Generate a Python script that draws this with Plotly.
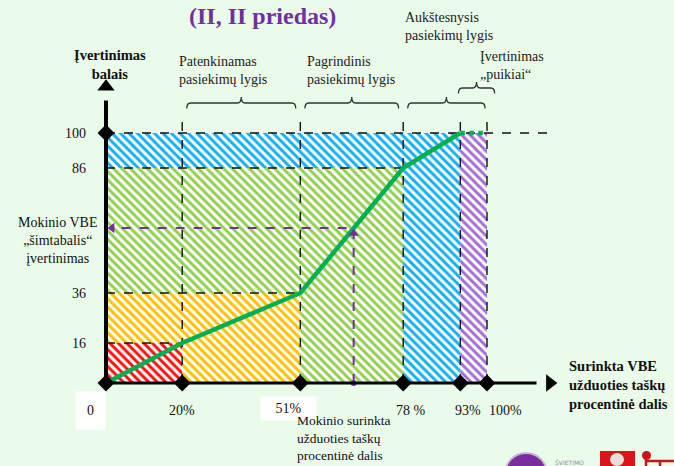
import plotly.graph_objects as go

# Grading scale: share of exam points collected (%) and the resulting 100-point score
pct = [0, 20, 51, 78, 93, 100]
score = [0, 16, 36, 86, 100, 100]
pct_labels = ["0", "20%", "51%", "78 %", "93%", "100%"]
score_ticks = [100, 86, 36, 16]
band_colors = ["#FF1010", "#FFC000", "#92D050", "#12B0F0", "#A46FD2"]

# One student's result
student_pct = 65
student_score = 62

# Achievement level captions with the pct span each brace covers
levels = [
    ("Patenkinamas<br>pasiekimų lygis", 20, 51),
    ("Pagrindinis<br>pasiekimų lygis", 51, 78),
    ("Aukštesnysis<br>pasiekimų lygis", 78, 100),
    ("Įvertinimas<br>„puikiai“", 93, 100),
]

BG = "#EAFBEA"
W, H = 674, 466
X0, SX = 106, 3.81
Y0, SY = 383, 2.5
FONT = "Liberation Serif, Times New Roman, serif"

fig = go.Figure()

# Stepped, hatched score bands
for k in range(1, len(pct)):
    y_lo = score[k - 1]
    y_hi = score[k]
    if k == len(pct) - 1:
        xs = [pct[k - 1], pct[k], pct[k], pct[k - 1], pct[k - 1]]
        ys = [0, 0, y_hi, y_hi, 0]
    else:
        xs = [0, pct[k - 1], pct[k - 1], pct[k], pct[k], 0, 0]
        ys = [y_lo, y_lo, 0, 0, y_hi, y_hi, y_lo]
    fig.add_trace(go.Scatter(
        x=xs, y=ys, mode="lines", fill="toself", line=dict(width=0),
        fillcolor=band_colors[k - 1],
        fillpattern=dict(shape="\\", bgcolor=band_colors[k - 1], fgcolor="white",
                         fgopacity=1, size=6, solidity=0.5),
        hoverinfo="skip", showlegend=False))

dash_style = dict(color="#111111", width=1.4, dash="dash")
top_y = 106
# vertical guide lines at each threshold
for p in pct[1:]:
    fig.add_trace(go.Scatter(x=[p, p], y=[0, top_y], mode="lines", line=dash_style,
                             hoverinfo="skip", showlegend=False))
# horizontal guide lines at each score level
for p, s in zip(pct[1:4], score[1:4]):
    fig.add_trace(go.Scatter(x=[0, p], y=[s, s], mode="lines", line=dash_style,
                             hoverinfo="skip", showlegend=False))
fig.add_trace(go.Scatter(x=[0, 117], y=[score[-1], score[-1]], mode="lines", line=dash_style,
                         hoverinfo="skip", showlegend=False))

# Conversion curve
fig.add_trace(go.Scatter(x=pct[:5], y=score[:5], mode="lines",
                         line=dict(color="#00B050", width=4.5),
                         hoverinfo="skip", showlegend=False))
fig.add_trace(go.Scatter(x=pct[4:], y=score[4:], mode="lines",
                         line=dict(color="#00B050", width=4.5, dash="dot"),
                         hoverinfo="skip", showlegend=False))

# Student read-off (dashed purple)
purple = "#7030A0"
fig.add_trace(go.Scatter(x=[student_pct, student_pct, 1.5], y=[0, student_score, student_score],
                         mode="lines", line=dict(color=purple, width=2, dash="dash"),
                         hoverinfo="skip", showlegend=False))
fig.add_trace(go.Scatter(x=[student_pct], y=[student_score - 2.2], mode="markers",
                         marker=dict(symbol="triangle-up", size=9, color=purple),
                         hoverinfo="skip", showlegend=False))
fig.add_trace(go.Scatter(x=[1.6], y=[student_score], mode="markers",
                         marker=dict(symbol="triangle-left", size=9, color=purple),
                         hoverinfo="skip", showlegend=False))
fig.add_trace(go.Scatter(x=[student_pct], y=[0], mode="markers",
                         marker=dict(symbol="circle", size=6, color=purple),
                         hoverinfo="skip", showlegend=False))

# Axes drawn as thick arrows
fig.add_trace(go.Scatter(x=[0, 0], y=[0, 113], mode="lines", line=dict(color="black", width=4),
                         hoverinfo="skip", showlegend=False))
fig.add_trace(go.Scatter(x=[0, 113], y=[0, 0], mode="lines", line=dict(color="black", width=3),
                         hoverinfo="skip", showlegend=False))
fig.add_trace(go.Scatter(x=[0], y=[118.5], mode="markers",
                         marker=dict(symbol="triangle-up", size=15, color="black"),
                         hoverinfo="skip", showlegend=False))
fig.add_trace(go.Scatter(x=[116.5], y=[0], mode="markers",
                         marker=dict(symbol="triangle-right", size=15, color="black"),
                         hoverinfo="skip", showlegend=False))
fig.add_trace(go.Scatter(x=pct + [0], y=[0] * len(pct) + [score[-1]], mode="markers",
                         marker=dict(symbol="diamond", size=13, color="black"),
                         hoverinfo="skip", showlegend=False))

ann = []

def px(x, y):
    return dict(x=x / W, y=1 - y / H, xref="paper", yref="paper")

# x tick labels (small horizontal nudges keep them clear of each other)
label_shift = {"0": 0, "20%": 0, "51%": -12, "78 %": 8, "93%": 8, "100%": 18}
for p, lab in zip(pct, pct_labels):
    a = dict(x=p, y=0, xref="x", yref="y", text=lab, showarrow=False, yshift=-27,
             xshift=label_shift[lab], font=dict(family=FONT, size=14, color="#111111"))
    if lab == "0":
        a.update(xanchor="right", bgcolor="white", borderpad=11)
    elif lab == "51%":
        a.update(text="&nbsp;&nbsp;&nbsp;" + lab + "&nbsp;&nbsp;&nbsp;", bgcolor="white",
                 borderpad=4, yshift=-25)
    ann.append(a)
# y tick labels
for s in score_ticks:
    ann.append(dict(x=0, y=s, xref="x", yref="y", text=str(s), showarrow=False, xanchor="right",
                    xshift=-18, font=dict(family=FONT, size=14, color="#111111")))

# Level captions and braces
brace_rows = [112, 112, 112, 118]
cap_px = [(177, 70), (305, 70), (403, 27), (478, 65)]
for (txt, a0, a1), yb, (cx, cy) in zip(levels, brace_rows, cap_px):
    x1 = a0 + 1.2
    x2 = a1 - 1.2 if a1 != 100 else a1 - 0.5
    if txt.startswith("Įvert"):
        x1, x2 = a0 - 0.5, a1 + 2
    xm = (x1 + x2) / 2
    d = 1.0
    y0, y1, y2 = yb - 2.2, yb, yb + 2.4
    path = (f"M {x1},{y0} Q {x1},{y1} {x1 + d},{y1} L {xm - d},{y1} "
            f"Q {xm},{y1} {xm},{y2} Q {xm},{y1} {xm + d},{y1} L {x2 - d},{y1} "
            f"Q {x2},{y1} {x2},{y0}")
    fig.add_shape(type="path", path=path, xref="x", yref="y",
                  line=dict(color="#333333", width=1.3))
    ann.append(dict(**px(cx, cy), text=txt, showarrow=False, xanchor="left", yanchor="middle",
                    align="left", font=dict(family=FONT, size=14, color="#222222")))

ann.append(dict(**px(110, 64), text="<b>Įvertinimas<br>balais</b>", showarrow=False,
                xanchor="center", yanchor="middle", align="center",
                font=dict(family=FONT, size=14.5, color="#111111")))
ann.append(dict(**px(57, 240), text="Mokinio VBE<br>„šimtabalis“<br>įvertinimas", showarrow=False,
                xanchor="center", yanchor="middle", align="center",
                font=dict(family=FONT, size=14, color="#111111")))
ann.append(dict(**px(295, 438), text="Mokinio surinkta<br>užduoties taškų<br>procentinė dalis",
                showarrow=False, xanchor="left", yanchor="middle", align="left",
                font=dict(family=FONT, size=13.5, color="#111111")))
ann.append(dict(**px(567, 385), text="<b>Surinkta VBE<br>užduoties taškų<br>procentinė dalis</b>",
                showarrow=False, xanchor="left", yanchor="middle", align="left",
                font=dict(family=FONT, size=14.5, color="#111111")))
ann.append(dict(**px(262, 16), text="<b>(II, II priedas)</b>", showarrow=False,
                xanchor="center", yanchor="middle",
                font=dict(family=FONT, size=24, color="#7030A0")))
ann.append(dict(**px(553, 462), text="ŠVIETIMO", showarrow=False, xanchor="left",
                yanchor="middle", font=dict(family="DejaVu Sans", size=6, color="#9a8aa8")))

# Small logos along the bottom edge
fig.add_shape(type="circle", xref="paper", yref="paper",
              x0=505 / W, x1=547 / W, y0=1 - 495 / H, y1=1 - 453 / H,
              fillcolor="#7A2E9E", line=dict(color="#C9B6D6", width=2))
fig.add_shape(type="rect", xref="paper", yref="paper",
              x0=600 / W, x1=635 / W, y0=0, y1=1 - 451 / H,
              fillcolor="#D8141C", line=dict(width=0))
fig.add_shape(type="circle", xref="paper", yref="paper",
              x0=610 / W, x1=624 / W, y0=0, y1=1 - 453 / H,
              fillcolor="#E8E0D8", line=dict(width=0))
fig.add_shape(type="circle", xref="paper", yref="paper",
              x0=642 / W, x1=651 / W, y0=1 - 460 / H, y1=1 - 451 / H,
              fillcolor="#C8141C", line=dict(width=0))
fig.add_shape(type="path", xref="paper", yref="paper",
              path=f"M {646 / W},{1 - 458 / H} L {646 / W},0 M {646 / W},{1 - 461 / H} L {674 / W},{1 - 461 / H} "
                   f"M {660 / W},{1 - 461 / H} L {660 / W},0",
              line=dict(color="#C8141C", width=2.5))

fig.update_layout(
    width=W, height=H, margin=dict(l=0, r=0, t=0, b=0),
    paper_bgcolor=BG, plot_bgcolor=BG,
    xaxis=dict(range=[-X0 / SX, (W - X0) / SX], visible=False, fixedrange=True),
    yaxis=dict(range=[(Y0 - H) / SY, Y0 / SY], visible=False, fixedrange=True),
    annotations=ann, showlegend=False,
)

fig.write_html("out.html")
